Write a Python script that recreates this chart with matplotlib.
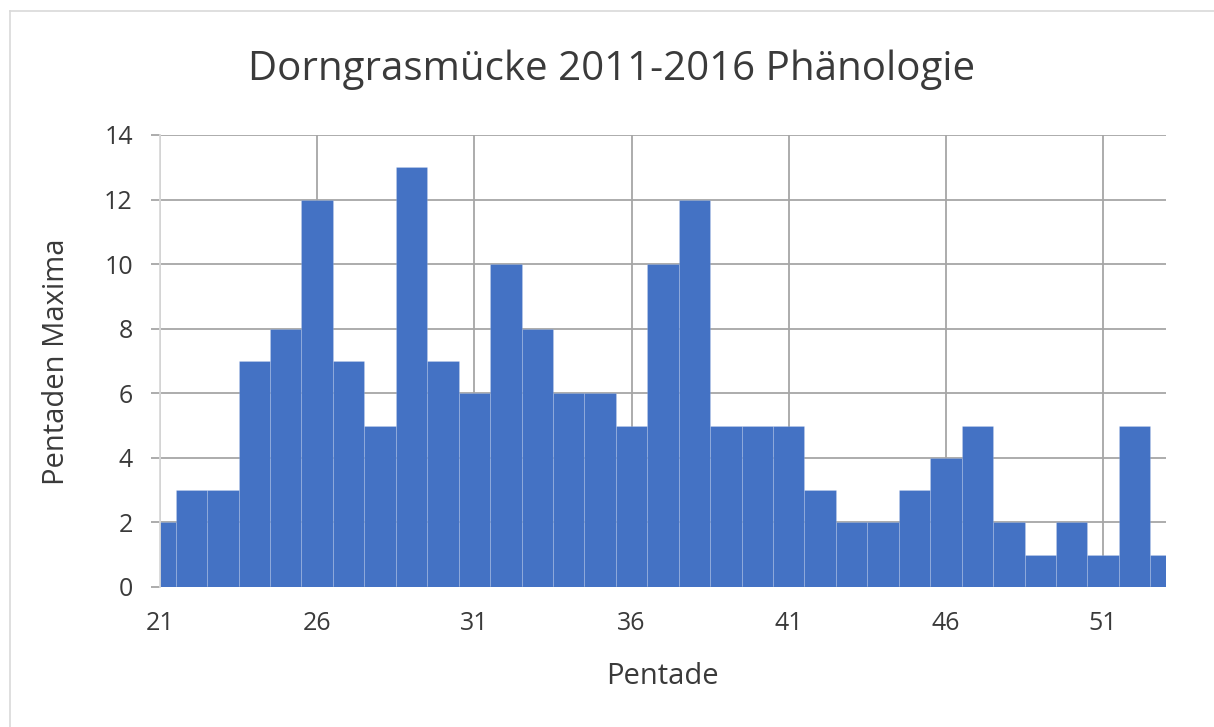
import matplotlib.pyplot as plt
from matplotlib.lines import Line2D
import numpy as np

# Pentade 21..53 with number of pentad maxima
pentaden = list(range(21, 54))
maxima = [2, 3, 3, 7, 8, 12, 7, 5, 13, 7, 6, 10, 8, 6, 6, 5, 10, 12,
          5, 5, 5, 3, 2, 2, 3, 4, 5, 2, 1, 2, 1, 5, 1]
x_ticks = [21, 26, 31, 36, 41, 46, 51]
y_ticks = [0, 2, 4, 6, 8, 10, 12, 14]

plt.rcParams['font.family'] = ['Open Sans', 'DejaVu Sans']
text_color = '#3a3a3a'
grid_color = '#a6a6a6'
W, H = 1214, 727

fig = plt.figure(figsize=(W / 100, H / 100), dpi=100)
ax = fig.add_axes([160 / W, 1 - 587 / H, (1166 - 160) / W, (587 - 135) / H])

ax.bar(pentaden, maxima, width=1.0, color='#4472C4',
       edgecolor=(1, 1, 1, 0.18), linewidth=0.6, zorder=2)

ax.set_xlim(21, 53)
ax.set_ylim(0, 14)
ax.set_xticks(x_ticks)
ax.set_yticks(y_ticks)
ax.grid(True, color=grid_color, linewidth=1.3, zorder=0)
ax.set_axisbelow(True)

for side in ['top', 'right', 'bottom']:
    ax.spines[side].set_visible(False)
ax.spines['left'].set_color('#d9d9d9')
ax.spines['left'].set_linewidth(1.3)

ax.tick_params(axis='y', length=6.5, width=1.3, color=grid_color,
               labelsize=18, labelcolor=text_color, pad=13)
ax.tick_params(axis='x', length=0, labelsize=18, labelcolor=text_color, pad=17)

# axis titles and chart title placed in figure coordinates
fig.text(662 / W, 1 - 676 / H, 'Pentade', fontsize=21, color=text_color,
         ha='center', va='center')
fig.text(57 / W, 1 - 362 / H, 'Pentaden Maxima', fontsize=21, color=text_color,
         ha='center', va='center', rotation=90)
fig.text(612 / W, 1 - 70 / H, 'Dorngrasmücke 2011-2016 Phänologie',
         fontsize=29, color=text_color, ha='center', va='center')

# chart area frame (top and left edge visible)
fig.add_artist(Line2D([10 / W, 10 / W], [0, 1 - 11 / H], color='#d9d9d9', lw=1.2))
fig.add_artist(Line2D([10 / W, 1], [1 - 11 / H, 1 - 11 / H], color='#d9d9d9', lw=1.2))

fig.savefig('out.png', dpi=100)
